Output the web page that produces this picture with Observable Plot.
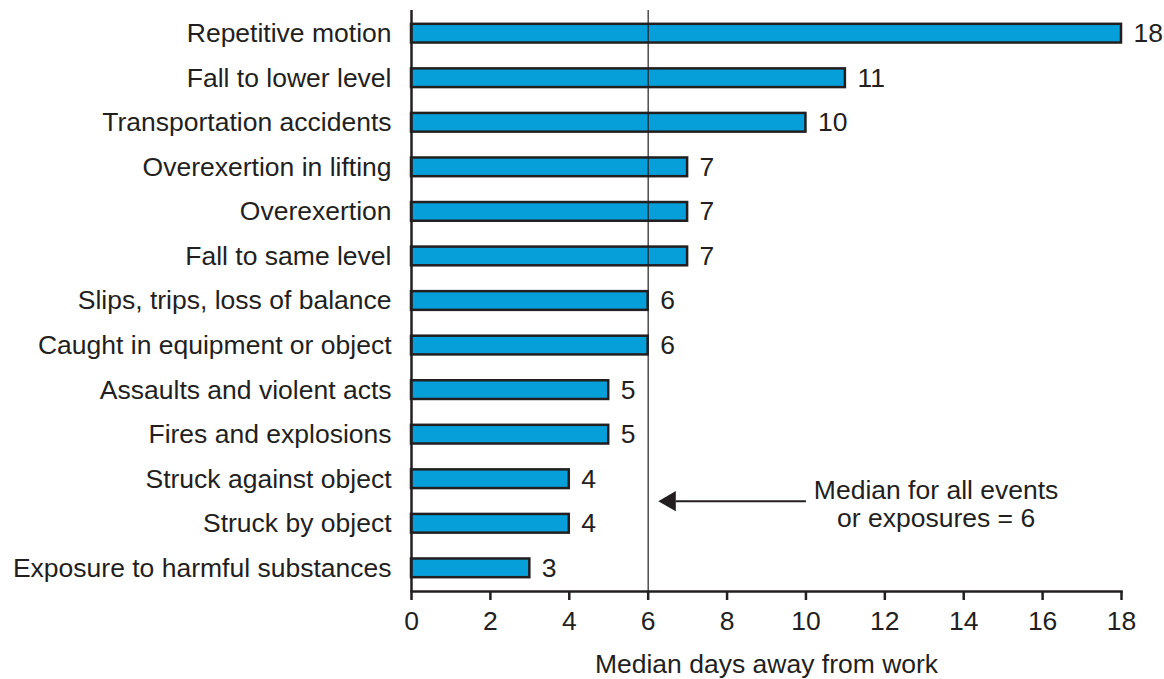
<!DOCTYPE html>
<html>
<head>
<meta charset="utf-8">
<script src="https://cdn.jsdelivr.net/npm/d3@7"></script>
<script src="https://cdn.jsdelivr.net/npm/@observablehq/plot@0.6"></script>
<style>
  html, body { margin: 0; padding: 0; background: #fff; }
  #chart svg { display: block; }
</style>
</head>
<body>
<div id="chart"></div>
<script>
const categories = [
  "Repetitive motion",
  "Fall to lower level",
  "Transportation accidents",
  "Overexertion in lifting",
  "Overexertion",
  "Fall to same level",
  "Slips, trips, loss of balance",
  "Caught in equipment or object",
  "Assaults and violent acts",
  "Fires and explosions",
  "Struck against object",
  "Struck by object",
  "Exposure to harmful substances"
];
const values = [18, 11, 10, 7, 7, 7, 6, 6, 5, 5, 4, 4, 3];
const xTicks = [0, 2, 4, 6, 8, 10, 12, 14, 16, 18];
const medianAll = 6;
const xLabel = "Median days away from work";
const annotationText = "Median for all events\nor exposures = 6";
const annotationAnchor = "Struck against object";
const arrowFrom = 10;
const arrowTo = 6.3;
const annotationX = 13.3;

const data = categories.map((c, i) => ({category: c, value: values[i]}));

const font = "'Liberation Sans', Arial, Helvetica, sans-serif";
const ink = "#231f20";
const fs = 26.5;

const chart = Plot.plot({
  width: 1164,
  height: 679,
  marginLeft: 411,
  marginRight: 43,
  marginTop: 10,
  marginBottom: 88,
  style: {fontFamily: font, fontSize: fs + "px", color: ink, background: "#fff"},
  x: {domain: [0, 18], ticks: xTicks, label: null},
  y: {domain: categories, paddingInner: 0.58, paddingOuter: 0.31, round: false, label: null},
  marks: [
    Plot.barX(data, {x: "value", y: "category", fill: "#069fd9", stroke: ink, strokeWidth: 2.5}),
    Plot.text(data, {x: "value", y: "category", text: d => String(d.value), textAnchor: "start", dx: 12, fontSize: fs, fill: ink}),
    Plot.ruleX([medianAll], {stroke: ink, strokeWidth: 1.2}),
    Plot.ruleX([0], {stroke: ink, strokeWidth: 2.5}),
    Plot.frame({anchor: "bottom", stroke: ink, strokeWidth: 2.5}),
    Plot.axisX({ticks: xTicks, tickSize: 9, tickPadding: 11, fontSize: fs, stroke: ink, strokeWidth: 2.5, label: xLabel, labelAnchor: "center", labelArrow: false, labelOffset: 81}),
    Plot.axisY({tickSize: 0, tickPadding: 20, fontSize: fs, label: null}),
    Plot.link([{x1: arrowFrom, x2: arrowTo + 0.4, y: annotationAnchor}], {x1: "x1", x2: "x2", y1: "y", y2: "y", dy: 22, stroke: ink, strokeWidth: 2}),
    Plot.dot([{x: arrowTo, y: annotationAnchor}], {x: "x", y: "y", dy: 22, symbol: "triangle", r: 7.5, rotate: -90, fill: ink, stroke: "none", dx: 10}),
    Plot.text([{x: annotationX, y: annotationAnchor, t: annotationText}], {x: "x", y: "y", text: "t", dy: 25, fontSize: fs, lineHeight: 1.06, textAnchor: "middle", fill: ink})
  ]
});
document.getElementById("chart").appendChild(chart);
</script>
</body>
</html>
